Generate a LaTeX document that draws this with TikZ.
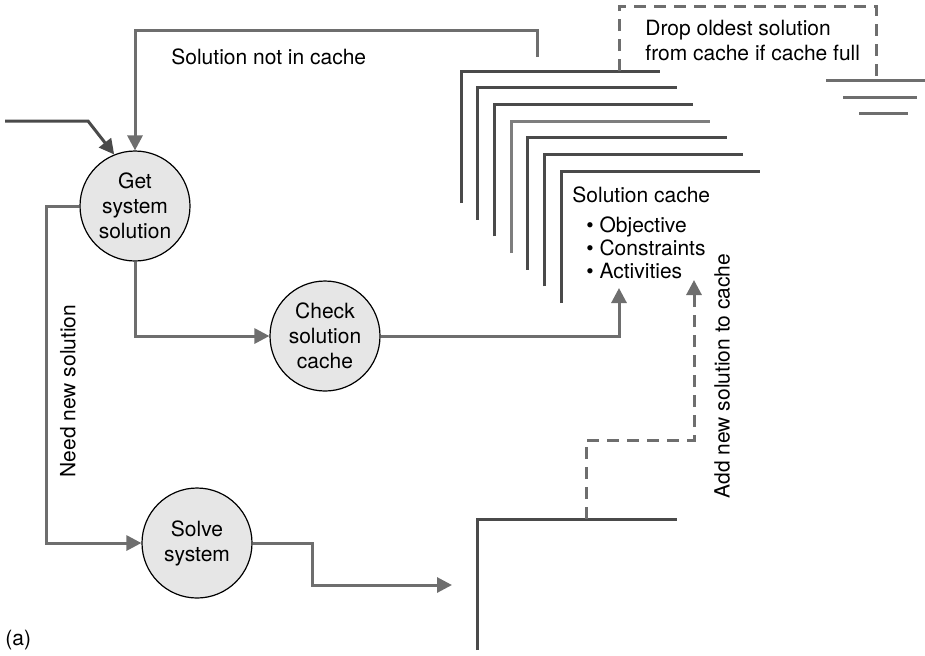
\documentclass[tikz,border=0pt]{standalone}
\usepackage{fontspec}
\setmainfont{TeX Gyre Heros}
\usetikzlibrary{arrows.meta}

\definecolor{flowgray}{HTML}{6E6E6E}
\definecolor{cachedark}{HTML}{4A4A4A}
\definecolor{cachelight}{HTML}{7E7E7E}
\definecolor{bubblefill}{HTML}{E6E6E6}

\tikzset{
  proc/.style={circle, draw=black, line width=0.6pt, fill=bubblefill,
    minimum size=55pt, inner sep=0pt, align=center,
    font=\fontsize{10.5}{12.5}\selectfont},
  flow/.style={draw=flowgray, line width=1.5pt,
    -{Triangle[length=7.5pt,width=7.5pt]}},
  cacheline/.style={line width=1.5pt},
  dashline/.style={draw=flowgray, line width=1.5pt, dash pattern=on 6pt off 4pt},
  lbl/.style={font=\fontsize{10.5}{12.5}\selectfont, inner sep=0pt}
}

\begin{document}
\begin{tikzpicture}[x=0.5pt,y=-0.5pt]
\useasboundingbox (0,0) rectangle (925,655);

% processes
\node[proc] (get) at (135,206) {Get\\system\\solution};
\node[proc] (check) at (325,336) {Check\\solution\\cache};
\node[proc] (solve) at (197,543) {Solve\\system};

% solution cache (stack of records)
\foreach \i/\tone in {0/cachedark,1/cachedark,2/cachedark,3/cachelight,4/cachedark,5/cachedark,6/cachedark}
  \draw[cacheline,\tone] ({461+16.67*\i},{203+16.67*\i}) -- ++(0,-132) -- ++(199,0);

% base anchor sits on the last line
\node[lbl, anchor=base west, align=left, font=\fontsize{10.5}{11.5}\selectfont] (cache) at (572,278)
  {Solution cache\\[3.5pt]
   \hspace{7pt}\textbullet\ Objective\\
   \hspace{7pt}\textbullet\ Constraints\\
   \hspace{7pt}\textbullet\ Activities};

% new solution store
\draw[cacheline,cachedark] (477,650) -- (477,519) -- (677,519);

% drop oldest
\draw[dashline] (619,71) -- (619,6) -- (876,6) -- (876,80);
\node[lbl, anchor=base west, align=left] (drop) at (645,60)
  {Drop oldest solution\\from cache if cache full};
\draw[cacheline,flowgray] (826,80) -- (925,80);
\draw[cacheline,flowgray] (843,97) -- (917,97);
\draw[cacheline,flowgray] (859,113) -- (908,113);

% connectors
\coordinate (inlet) at (5,121);
\coordinate (notin) at (537,57);
\coordinate (cachein) at (619,288);
\coordinate (addin) at (694,280);
\coordinate (storein) at (452,585);
\coordinate (newsol) at (586,519);

\draw[flow,draw=cachedark] (inlet) -- (88,121) -- (get.112);
\draw[flow] (notin) -- (537,30) -| (get.north);
\draw[flow] (get.south) |- (check.west);
\draw[flow] (check.east) -| (cachein);
\draw[flow] (get.west) -- ++(-33,0) |- (solve.west);
\draw[flow] (solve.east) -- ++(60,0) |- (storein);
\draw[flow,dashline] (newsol) -- (586,440) -| (addin);

% labels
\node[lbl, anchor=west] (notinlbl) at (171,57) {Solution not in cache};
\node[lbl, rotate=90] (needlbl) at (68,391) {Need new solution};
\node[lbl, rotate=90] (addlbl) at (722,376) {Add new solution to cache};
\node[lbl, anchor=base west] (panel) at (5,645) {(a)};
\end{tikzpicture}
\end{document}
